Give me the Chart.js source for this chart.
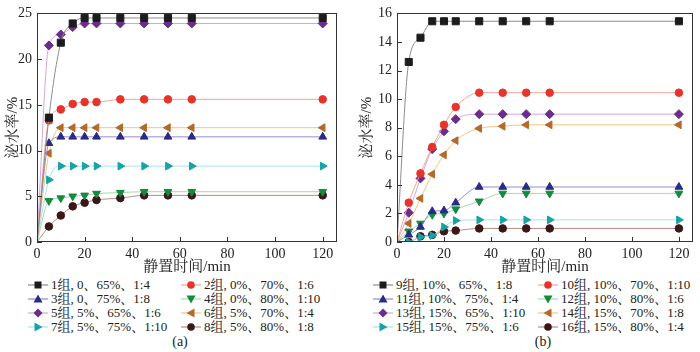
<!DOCTYPE html>
<html>
<head>
<meta charset="utf-8">
<script src="https://cdn.jsdelivr.net/npm/chart.js@4.4.0/dist/chart.umd.min.js"></script>
<style>
  body { margin: 0; width: 700px; height: 352px; background: #fff; position: relative; overflow: hidden;
         font-family: 'Liberation Serif', 'Noto Serif CJK SC', 'Noto Sans CJK SC', serif; color: #222; }
  canvas { position: absolute; top: 0; }
  .leg { position: absolute; height: 16px; line-height: 16px; font-size: 13px; white-space: nowrap; display: flex; align-items: center; }
  .leg svg { flex: none; margin-right: 3px; }
  .cap { position: absolute; top: 334px; font-size: 14px; transform: translateX(-50%); }
</style>
</head>
<body>
<canvas id="chartA" width="345" height="276" style="left:0"></canvas>
<canvas id="chartB" width="350" height="276" style="left:350px"></canvas>
<div id="legendA"></div>
<div id="legendB"></div>
<div class="cap" style="left:180px">(a)</div>
<div class="cap" style="left:543px">(b)</div>
<script>
// static time, min
const timeMin = [0, 5, 10, 15, 20, 25, 35, 45, 55, 65, 120];

// bleeding rate, % -- panel (a)
const g1 = [0, 13.6, 21.8, 23.9, 24.5, 24.5, 24.5, 24.5, 24.5, 24.5, 24.5];
const g2 = [0, 13.3, 14.5, 15.1, 15.3, 15.3, 15.6, 15.6, 15.6, 15.6, 15.6];
const g3 = [0, 10.8, 11.5, 11.5, 11.5, 11.5, 11.5, 11.5, 11.5, 11.5, 11.5];
const g4 = [0, 4.5, 4.8, 5.0, 5.1, 5.3, 5.4, 5.5, 5.5, 5.5, 5.5];
const g5 = [0, 21.5, 22.7, 23.5, 23.9, 23.9, 23.9, 23.9, 23.9, 23.9, 23.9];
const g6 = [0, 9.7, 12.5, 12.5, 12.5, 12.5, 12.5, 12.5, 12.5, 12.5, 12.5];
const g7 = [0, 6.8, 8.3, 8.3, 8.3, 8.3, 8.3, 8.3, 8.3, 8.3, 8.3];
const g8 = [0, 1.7, 2.9, 3.9, 4.3, 4.6, 4.8, 5.1, 5.1, 5.1, 5.1];

// panel (b)
const g9  = [0, 12.6, 14.3, 15.45, 15.45, 15.45, 15.45, 15.45, 15.45, 15.45, 15.45];
const g10 = [0, 2.75, 4.8, 6.65, 8.2, 9.45, 10.45, 10.45, 10.45, 10.45, 10.45];
const g11 = [0, 0.5, 1.05, 2.15, 2.2, 2.75, 3.85, 3.85, 3.85, 3.85, 3.85];
const g12 = [0, 0.75, 1.3, 1.9, 2.0, 2.3, 2.85, 3.4, 3.4, 3.4, 3.4];
const g13 = [0, 2.05, 4.45, 6.5, 7.75, 8.6, 8.95, 8.95, 8.95, 8.95, 8.95];
const g14 = [0, 1.3, 3.05, 4.75, 6.1, 7.1, 7.95, 8.1, 8.2, 8.2, 8.2];
const g15 = [0, 0, 0.35, 0.45, 1.05, 1.5, 1.55, 1.55, 1.55, 1.55, 1.55];
const g16 = [0, 0, 0.4, 0.5, 0.75, 0.8, 0.95, 0.95, 0.95, 0.95, 0.95];

const labelsA = ['1组, 0、65%、1:4', '2组, 0%、70%、1:6', '3组, 0、75%、1:8', '4组, 0%、80%、1:10',
                 '5组, 5%、65%、1:6', '6组, 5%、70%、1:4', '7组, 5%、75%、1:10', '8组, 5%、80%、1:8'];
const labelsB = ['9组, 10%、65%、1:8', '10组, 10%、70%、1:10', '11组, 10%、75%、1:4', '12组, 10%、80%、1:6',
                 '13组, 15%、65%、1:10', '14组, 15%、70%、1:8', '15组, 15%、75%、1:6', '16组, 15%、80%、1:4'];

// marker colour, line colour, marker shape
const markColors = ['#1c1c1c', '#e8332c', '#2b2a86', '#138a3e', '#6b2d8c', '#b3692a', '#17a2a6', '#3b1717'];
const lineColors = ['#8c8c8c', '#f5a495', '#8e8ed0', '#a8d8a8', '#d4a6dc', '#f2c77a', '#a6e2ef', '#b88a88'];
const shapes = ['rect', 'circle', 'triangle', 'triangle', 'rectRot', 'triangle', 'triangle', 'circle'];
const rotations = [0, 0, 0, 180, 0, -90, 90, 0];
const radii = [5, 3.8, 4.5, 4.5, 4.5, 4.5, 4.5, 3.8];

Chart.defaults.font.family = "'Liberation Serif', 'Noto Serif CJK SC', 'Noto Sans CJK SC', serif";
Chart.defaults.color = '#222';

const framePlugin = {
  id: 'frame',
  afterDraw(chart) {
    const { ctx, chartArea: a, scales: { x, y } } = chart;
    ctx.save();
    ctx.strokeStyle = '#333';
    ctx.lineWidth = 1;
    ctx.strokeRect(Math.round(a.left) + 0.5, Math.round(a.top) + 0.5,
                   Math.round(a.right - a.left) - 1, Math.round(a.bottom - a.top) - 1);
    ctx.beginPath();
    x.ticks.forEach(t => {
      const px = Math.round(x.getPixelForValue(t.value)) + 0.5;
      ctx.moveTo(px, a.bottom); ctx.lineTo(px, a.bottom - 5);
    });
    y.ticks.forEach(t => {
      const py = Math.round(y.getPixelForValue(t.value)) + 0.5;
      ctx.moveTo(a.left, py); ctx.lineTo(a.left + 5, py);
    });
    ctx.stroke();
    ctx.restore();
  }
};

function makeChart(id, series, labels, yMax, yStep, yWidth, padRight, titlePad) {
  const datasets = series.map((vals, i) => ({
    label: labels[i],
    data: vals.map((v, k) => ({ x: timeMin[k], y: v })),
    borderColor: lineColors[i],
    backgroundColor: markColors[i],
    pointBackgroundColor: markColors[i],
    pointBorderColor: markColors[i],
    pointStyle: shapes[i],
    rotation: rotations[i],
    pointRadius: timeMin.map(t => t === 0 ? 0 : radii[i]),
    borderWidth: 1,
    cubicInterpolationMode: 'monotone'
  }));
  return new Chart(document.getElementById(id), {
    type: 'line',
    data: { datasets },
    plugins: [framePlugin],
    options: {
      responsive: false,
      animation: false,
      layout: { padding: { top: 5, right: padRight, left: 0, bottom: 0 } },
      plugins: { legend: { display: false }, tooltip: { enabled: false } },
      scales: {
        x: {
          type: 'linear', min: 0, max: 126,
          grid: { display: false, drawTicks: false },
          border: { display: false },
          ticks: { stepSize: 20, includeBounds: false, padding: 4, font: { size: 14 } },
          title: { display: true, text: '静置时间/min', font: { size: 15 }, padding: 0 },
          afterFit: s => { s.height = 34; }
        },
        y: {
          min: 0, max: yMax,
          grid: { display: false, drawTicks: false },
          border: { display: false },
          ticks: { stepSize: yStep, padding: 5, font: { size: 14 } },
          title: { display: true, text: '泌水率/%', font: { size: 15 }, padding: { top: titlePad, bottom: 0 } },
          afterFit: s => { s.width = yWidth; }
        }
      }
    }
  });
}

makeChart('chartA', [g1, g2, g3, g4, g5, g6, g7, g8], labelsA, 25, 5, 37, 8, 4);
makeChart('chartB', [g9, g10, g11, g12, g13, g14, g15, g16], labelsB, 16, 2, 47, 7, 8);

function markerSvg(i) {
  const c = markColors[i], cx = 10, cy = 8;
  let m;
  switch (i) {
    case 0: m = `<rect x="6.5" y="4.5" width="7" height="7" fill="${c}"/>`; break;
    case 1: case 7: m = `<circle cx="${cx}" cy="${cy}" r="3.8" fill="${c}"/>`; break;
    case 2: m = `<polygon points="10,3.5 14.5,11.5 5.5,11.5" fill="${c}"/>`; break;
    case 3: m = `<polygon points="10,12.5 14.5,4.5 5.5,4.5" fill="${c}"/>`; break;
    case 4: m = `<polygon points="10,3.5 14.5,8 10,12.5 5.5,8" fill="${c}"/>`; break;
    case 5: m = `<polygon points="5.5,8 13.5,3.5 13.5,12.5" fill="${c}"/>`; break;
    case 6: m = `<polygon points="14.5,8 6.5,3.5 6.5,12.5" fill="${c}"/>`; break;
  }
  return `<svg width="20" height="16"><line x1="0" y1="8" x2="20" y2="8" stroke="${lineColors[i]}" stroke-width="1.2"/>${m}</svg>`;
}

function buildLegend(id, labels, colX, rowY) {
  const box = document.getElementById(id);
  labels.forEach((lab, i) => {
    const d = document.createElement('div');
    d.className = 'leg';
    d.style.left = colX[i % 2] + 'px';
    d.style.top = (rowY[Math.floor(i / 2)] - 8) + 'px';
    d.innerHTML = markerSvg(i) + '<span>' + lab + '</span>';
    box.appendChild(d);
  });
}

buildLegend('legendA', labelsA, [28, 181], [285, 299, 313, 327]);
buildLegend('legendB', labelsB, [373, 538], [285, 299, 313, 327]);
</script>
</body>
</html>
